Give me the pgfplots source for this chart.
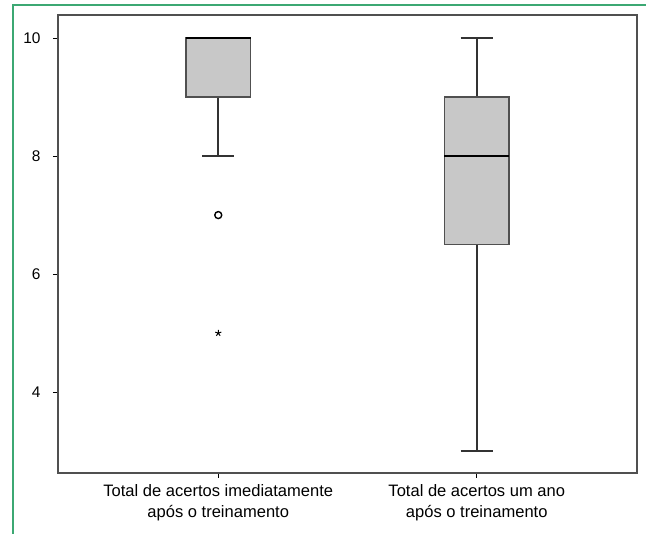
\documentclass[border=0pt]{standalone}
\usepackage{fontspec}
\setmainfont{Liberation Sans}
\usepackage{pgfplots}
\pgfplotsset{compat=1.18}
\usepgfplotslibrary{statistics}
\definecolor{framegreen}{RGB}{60,168,115}
\definecolor{boxfill}{RGB}{200,200,200}
\definecolor{axgray}{RGB}{80,80,80}
\begin{document}
\begin{tikzpicture}
\path[use as bounding box] (0bp,0bp) rectangle (646bp,534bp);
\draw[framegreen, line width=1.5bp] (13bp,0bp) -- (13bp,529bp) -- (646bp,529bp);
\begin{axis}[
 at={(58bp,61bp)}, anchor=south west,
 scale only axis, width=579bp, height=458bp,
 xmin=0.38, xmax=2.62, ymin=2.63, ymax=10.39,
 xtick={1,2},
 xticklabels={{Total de acertos imediatamente\\após o treinamento},{Total de acertos um ano\\após o treinamento}},
 xticklabel style={align=center, font=\fontsize{16.6}{21}\selectfont, yshift=-3bp},
 ytick={4,6,8,10},
 yticklabel style={font=\fontsize{15.5}{18}\selectfont, xshift=-9bp},
 /pgf/number format/assume math mode=true,
 tick align=outside, xtick pos=bottom, ytick pos=left,
 major tick length=5bp,
 axis line style={axgray, line width=1.5bp},
 every tick/.style={black, line width=0.9bp},
 boxplot/draw direction=y,
]
\addplot[boxplot prepared={draw position=1, lower whisker=8, lower quartile=9, median=10, upper quartile=10, upper whisker=10, box extend=0.25, whisker extend=0.125,
  every box/.style={draw=axgray, fill=boxfill, line width=1.3bp},
  every whisker/.style={draw=black!80, line width=1.7bp},
  every median/.style={black, line width=2.2bp}}, solid] coordinates {};
\addplot[boxplot prepared={draw position=2, lower whisker=3, lower quartile=6.5, median=8, upper quartile=9, upper whisker=10, box extend=0.25, whisker extend=0.125,
  every box/.style={draw=axgray, fill=boxfill, line width=1.3bp},
  every whisker/.style={draw=black!80, line width=1.7bp},
  every median/.style={black, line width=2.2bp}}, solid] coordinates {};
\addplot[only marks, mark=o, mark size=3.5bp, mark options={line width=1.4bp, black}] coordinates {(1,7)};
\addplot[only marks, mark=star, mark size=3.2bp, mark options={black, line width=1bp}] coordinates {(1,5)};
\end{axis}
\end{tikzpicture}
\end{document}
